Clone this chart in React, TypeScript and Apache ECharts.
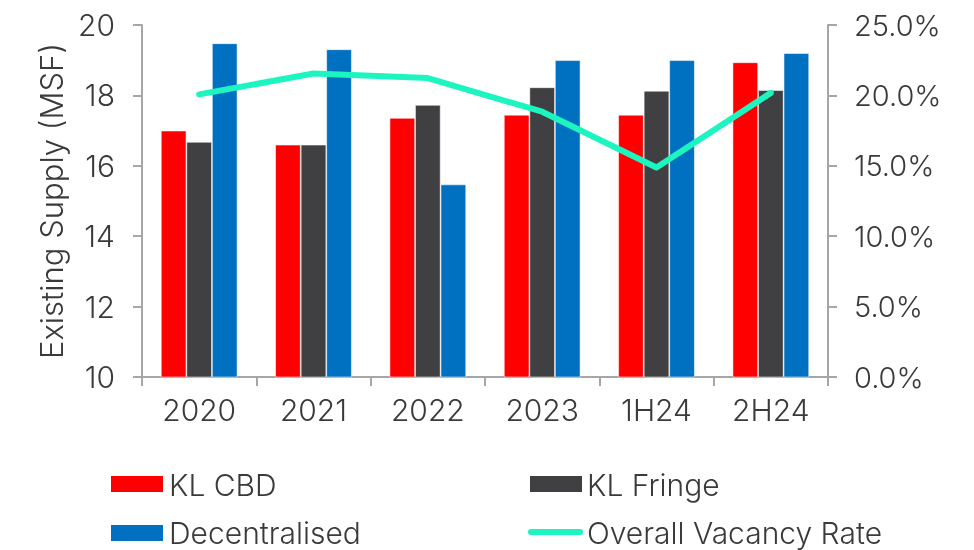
import React, { useEffect, useRef } from "react";
import * as echarts from "echarts";

const categories = ["2020", "2021", "2022", "2023", "1H24", "2H24"];
const klCbd = [17.0, 16.6, 17.36, 17.45, 17.45, 18.94];
const klFringe = [16.68, 16.6, 17.73, 18.23, 18.13, 18.15];
const decentralised = [19.48, 19.31, 15.47, 19.0, 19.0, 19.2];
const vacancyRate = [20.07, 21.56, 21.23, 18.84, 14.88, 20.18];
const seriesNames = ["KL CBD", "KL Fringe", "Decentralised", "Overall Vacancy Rate"];

const FONT = "Inter";
const TEXT = "#3a3a3a";
const AXIS = "#a6a6a6";
const RED = "#ff0000";
const GRAY = "#404042";
const BLUE = "#0070c0";
const TEAL = "#1cf5c0";

export default function App() {
  const ref = useRef<HTMLDivElement>(null);
  useEffect(() => {
    if (!ref.current) return;
    const chart = echarts.init(ref.current, null, { renderer: "svg" });
    const barBorder = { borderColor: "rgba(255,255,255,0.7)", borderWidth: 0.75 };
    const legendText = (text: string, x: number, y: number) => ({
      type: "text",
      x,
      y,
      style: {
        text,
        fontFamily: FONT,
        fontSize: 30,
        lineHeight: 30,
        fontWeight: 300,
        fill: TEXT,
        verticalAlign: "middle",
        align: "left",
      },
    });
    chart.setOption({
      animation: false,
      textStyle: { fontFamily: FONT, color: TEXT, fontWeight: 300 },
      grid: { left: 142, right: 146, top: 25, bottom: 173 },
      legend: { show: false },
      graphic: [
        { type: "rect", shape: { x: 111, y: 476, width: 52, height: 16 }, style: { fill: RED } },
        legendText(seriesNames[0], 169, 485),
        { type: "rect", shape: { x: 111, y: 525, width: 52, height: 16 }, style: { fill: BLUE } },
        legendText(seriesNames[2], 169, 533),
        { type: "rect", shape: { x: 530, y: 476, width: 52, height: 16 }, style: { fill: GRAY } },
        legendText(seriesNames[1], 587, 485),
        {
          type: "line",
          shape: { x1: 531, y1: 532, x2: 580, y2: 532 },
          style: { stroke: TEAL, lineWidth: 6, lineCap: "round" },
        },
        legendText(seriesNames[3], 587, 533),
      ],
      xAxis: {
        type: "category",
        data: categories,
        axisLine: { lineStyle: { color: AXIS, width: 2 } },
        axisTick: { show: true, length: 9, lineStyle: { color: AXIS, width: 2 } },
        axisLabel: { fontFamily: FONT, fontSize: 30, color: TEXT, margin: 18, fontWeight: 300 },
      },
      yAxis: [
        {
          type: "value",
          min: 10,
          max: 20,
          interval: 2,
          name: "Existing Supply (MSF)",
          nameLocation: "middle",
          nameGap: 74,
          nameTextStyle: { fontFamily: FONT, fontSize: 31, color: TEXT, fontWeight: 300 },
          axisLine: { show: true, lineStyle: { color: AXIS, width: 2 } },
          axisTick: { show: true, length: 9, lineStyle: { color: AXIS, width: 2 } },
          axisLabel: { fontFamily: FONT, fontSize: 30, color: TEXT, margin: 27, fontWeight: 300 },
          splitLine: { show: false },
        },
        {
          type: "value",
          min: 0,
          max: 25,
          interval: 5,
          position: "right",
          axisLine: { show: true, lineStyle: { color: AXIS, width: 2 } },
          axisTick: { show: true, length: 9, lineStyle: { color: AXIS, width: 2 } },
          axisLabel: {
            fontFamily: FONT,
            fontSize: 29,
            color: TEXT,
            margin: 26,
            fontWeight: 300,
            formatter: (v: number) => `${v.toFixed(1)}%`,
          },
          splitLine: { show: false },
        },
      ],
      series: [
        {
          name: seriesNames[0],
          type: "bar",
          data: klCbd,
          barGap: "0%",
          barCategoryGap: "33%",
          itemStyle: { color: RED, ...barBorder },
        },
        {
          name: seriesNames[1],
          type: "bar",
          data: klFringe,
          itemStyle: { color: GRAY, ...barBorder },
        },
        {
          name: seriesNames[2],
          type: "bar",
          data: decentralised,
          itemStyle: { color: BLUE, ...barBorder },
        },
        {
          name: seriesNames[3],
          type: "line",
          yAxisIndex: 1,
          data: vacancyRate,
          symbol: "none",
          lineStyle: { color: TEAL, width: 6, cap: "round", join: "round" },
          itemStyle: { color: TEAL },
        },
      ],
    });
    return () => chart.dispose();
  }, []);
  return <div ref={ref} style={{ position: "fixed", left: 0, top: 0, width: 974, height: 550 }} />;
}
